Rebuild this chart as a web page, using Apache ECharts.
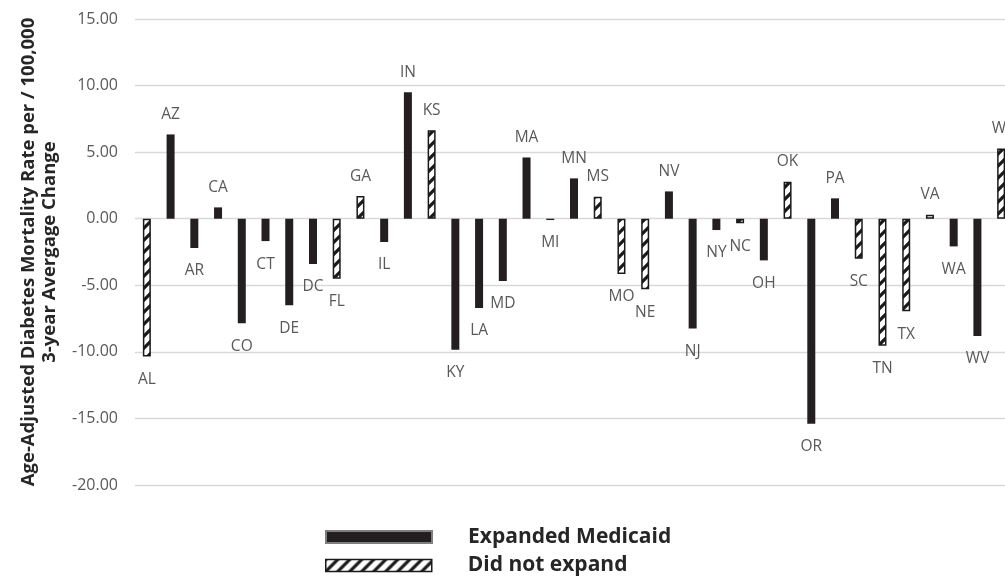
<!DOCTYPE html>
<html>
<head>
<meta charset="utf-8">
<script src="https://cdn.jsdelivr.net/npm/echarts@6/dist/echarts.min.js"></script>
<style>
html,body{margin:0;padding:0;background:#fff;overflow:hidden;width:1005px;height:576px;}
#chart{width:1013px;height:576px;}
</style>
</head>
<body>
<div id="chart"></div>
<script>
const states = ['AL','AZ','AR','CA','CO','CT','DE','DC','FL','GA','IL','IN','KS','KY','LA','MD','MA','MI','MN','MS','MO','NE','NV','NJ','NY','NC','OH','OK','OR','PA','SC','TN','TX','VA','WA','WV','WI'];
const values = [-10.35, 6.33, -2.2, 0.85, -7.85, -1.68, -6.5, -3.4, -4.5, 1.7, -1.75, 9.5, 6.65, -9.85, -6.7, -4.68, 4.6, -0.1, 3.03, 1.65, -4.15, -5.3, 2.05, -8.25, -0.85, -0.35, -3.13, 2.78, -15.4, 1.53, -3.0, -9.55, -6.95, 0.3, -2.08, -8.8, 5.27];
const expanded = [false,true,true,true,true,true,true,true,false,false,true,true,false,true,true,true,true,true,true,false,false,false,true,true,true,false,true,false,true,true,false,false,false,false,true,true,false];
const seriesNames = ['Expanded Medicaid','Did not expand'];
const yTicks = {min:-20, max:15, interval:5};
const axisTitle = 'Age-Adjusted Diabetes Mortality Rate per / 100,000\n3-year Avergage Change';

// hatch pattern
function makeHatch(){
  const s = 12;
  const c = document.createElement('canvas');
  c.width = s; c.height = s;
  const g = c.getContext('2d');
  g.fillStyle = '#fff'; g.fillRect(0,0,s,s);
  g.strokeStyle = '#1a1a1a'; g.lineWidth = 3.2;
  g.beginPath();
  g.moveTo(-s/2, s/2); g.lineTo(s/2, -s/2);
  g.moveTo(0, s); g.lineTo(s, 0);
  g.moveTo(s/2, s*1.5); g.lineTo(s*1.5, s/2);
  g.stroke();
  return c;
}
const hatch = makeHatch();
const FONT = '"Open Sans", sans-serif';

function buildData(flag){
  return values.map((v,i) => {
    if (expanded[i] !== flag) return '-';
    return {value: v, label: v >= 0 ? {position: 'top', distance: 12} : {position: 'bottom', distance: 15}};
  });
}
const labelCfg = {
  show: true,
  color: '#595959',
  fontFamily: FONT,
  fontSize: 15.5,
  formatter: p => states[p.dataIndex]
};
const legendText = {fontFamily: FONT, fontSize: 21, fontWeight: 'bold', color: '#262626', lineHeight: 24, padding: [4,0,0,31]};

const chart = echarts.init(document.getElementById('chart'), null, {renderer:'canvas'});
chart.setOption({
  animation: false,
  backgroundColor: '#fff',
  grid: {left: 135, right: 0, top: 19, bottom: 91, containLabel: false},
  xAxis: {
    type: 'category',
    data: states,
    axisLine: {show: false},
    axisTick: {show: false},
    axisLabel: {show: false},
    splitLine: {show: false}
  },
  yAxis: {
    type: 'value',
    min: yTicks.min, max: yTicks.max, interval: yTicks.interval,
    name: axisTitle,
    nameLocation: 'middle',
    nameGap: 75,
    nameTextStyle: {fontFamily: FONT, fontSize: 18.5, fontWeight: 'bold', color: '#262626', lineHeight: 21, align: 'center'},
    axisLine: {show: false},
    axisTick: {show: false},
    axisLabel: {formatter: v => v.toFixed(2), color: '#595959', fontFamily: FONT, fontSize: 16, margin: 17},
    splitLine: {lineStyle: {color: '#d9d9d9', width: 1.3}}
  },
  legend: [
    {
      left: 320, top: 518,
      itemWidth: 106, itemHeight: 12,
      textStyle: legendText,
      data: [{name: seriesNames[0], icon: 'rect', itemStyle: {color: '#231f20', borderColor: '#7f7f7f', borderWidth: 2}}]
    },
    {
      left: 320, top: 546.5,
      itemWidth: 106, itemHeight: 12,
      textStyle: legendText,
      data: [{name: seriesNames[1], icon: 'rect', itemStyle: {color: {image: hatch, repeat: 'repeat'}, borderColor: '#1a1a1a', borderWidth: 1.5}}]
    }
  ],
  series: [
    {
      name: seriesNames[0], type: 'bar', barWidth: 8, barGap: '-100%',
      itemStyle: {color: '#231f20'},
      label: labelCfg,
      data: buildData(true)
    },
    {
      name: seriesNames[1], type: 'bar', barWidth: 8, barGap: '-100%',
      itemStyle: {color: {image: hatch, repeat: 'repeat'}, borderColor: '#1a1a1a', borderWidth: 1.5},
      label: labelCfg,
      data: buildData(false)
    }
  ]
});
</script>
</body>
</html>
